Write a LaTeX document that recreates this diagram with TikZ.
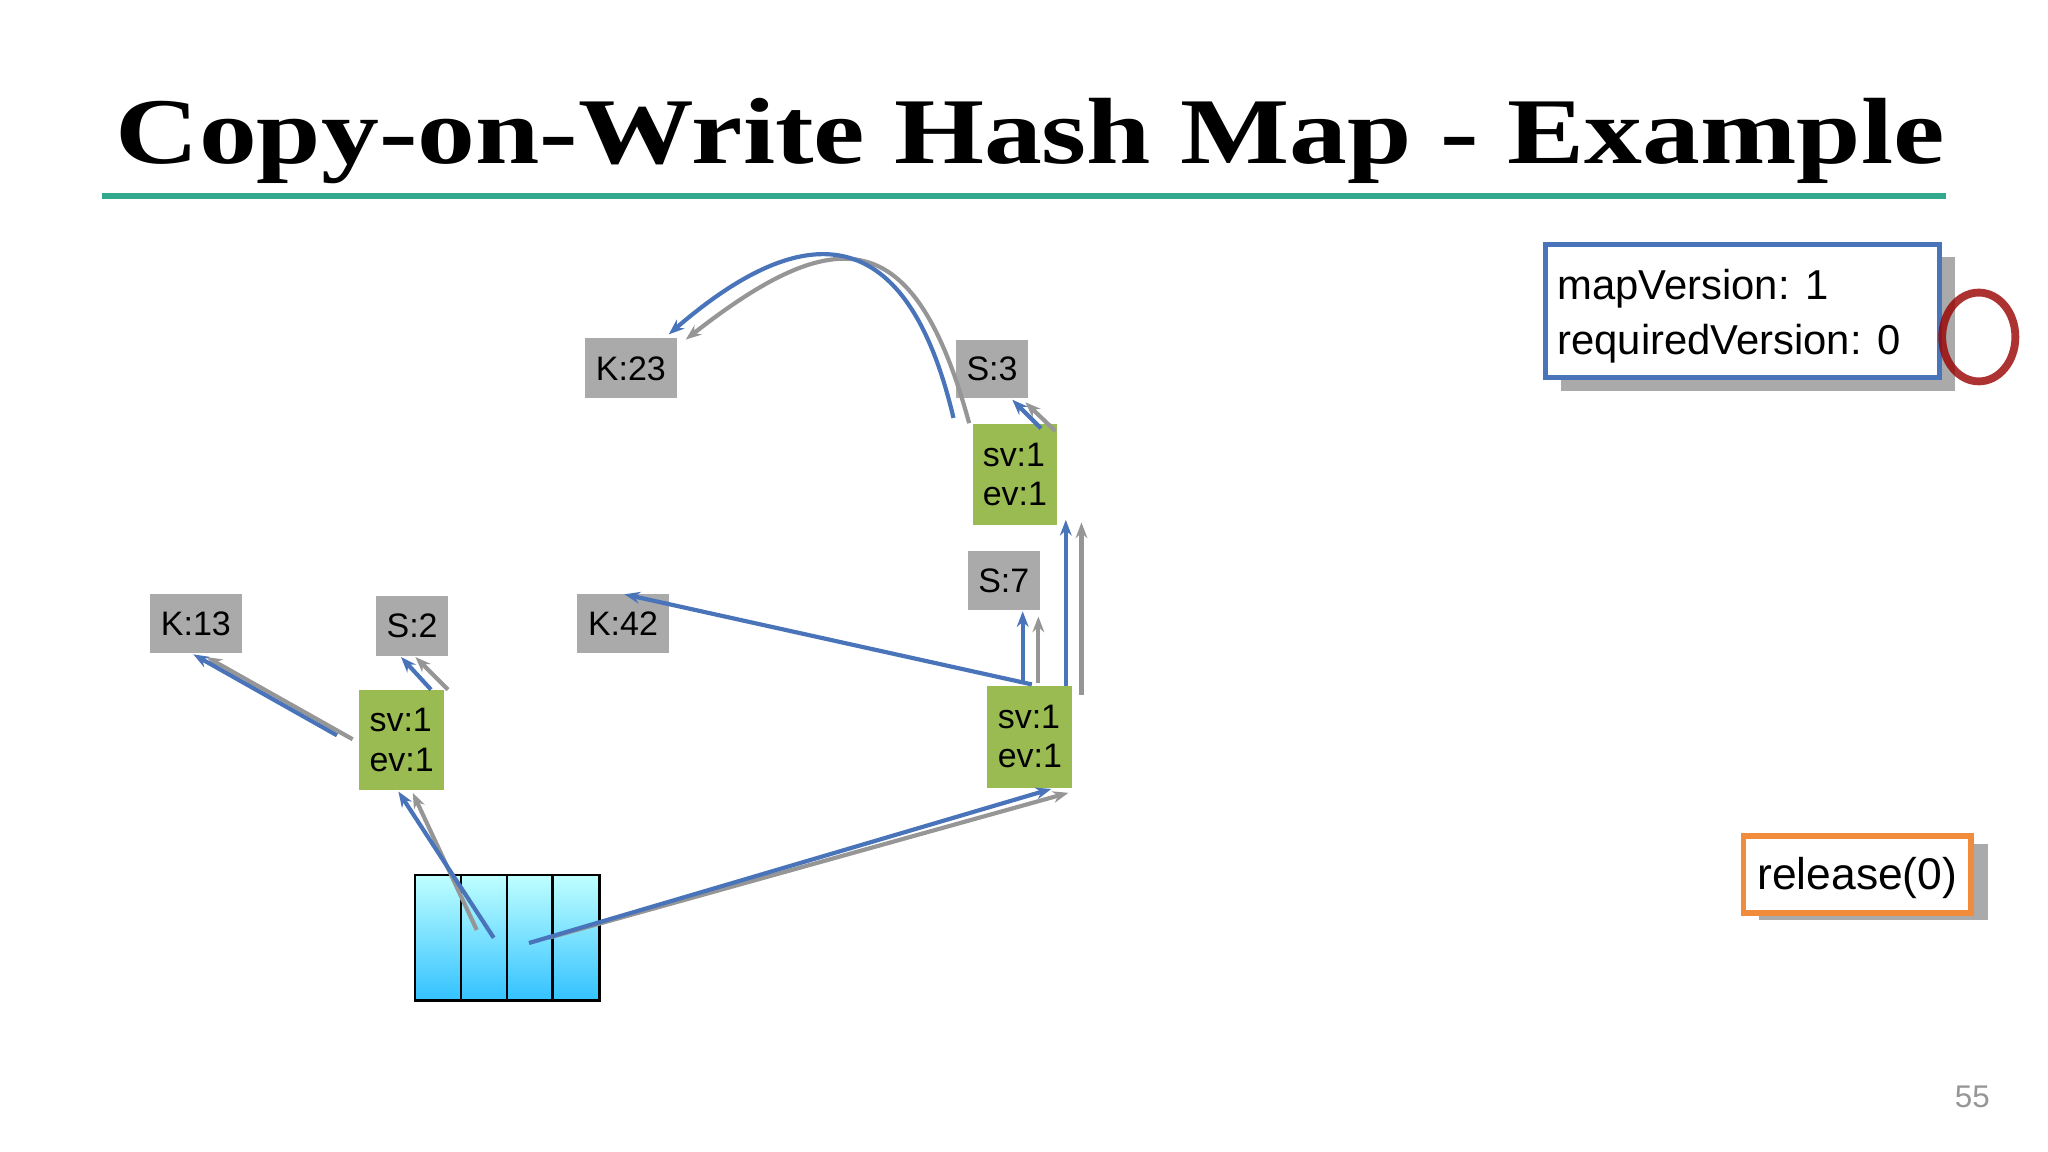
\documentclass[tikz,border=0pt]{standalone}
\usepackage{fontspec}
\setmainfont{Liberation Sans}
\newfontfamily\titlefont{Liberation Serif}
\usetikzlibrary{arrows.meta}
\definecolor{bl}{RGB}{74,116,186}
\definecolor{gr}{RGB}{150,150,150}
\definecolor{box}{RGB}{170,170,170}
\definecolor{grn}{RGB}{153,187,82}
\definecolor{teal}{RGB}{50,168,140}
\definecolor{org}{RGB}{240,140,60}
\begin{document}
\begin{tikzpicture}[x=0.5pt,y=-0.5pt,
 gbox/.style={fill=box,inner sep=0,font=\fontsize{13}{14}\selectfont,anchor=center},
 vbox/.style={fill=grn,inner sep=0,font=\fontsize{13}{15}\selectfont,align=left,anchor=center},
 ba/.style={draw=bl,line width=1.6pt,-{Stealth[length=6pt]}},
 ga/.style={draw=gr,line width=1.6pt,-{Stealth[length=6pt]}}]
\useasboundingbox (0,0) rectangle (1568,882);
\node[font=\titlefont\bfseries\fontsize{36}{40}\selectfont,anchor=base west,inner sep=0,xscale=1.23] (title) at (88,125) {Copy-on-Write Hash Map - Example};
\draw[teal,line width=2pt] (78,150) -- (1490,150);
% boxes
\node[gbox,minimum width=35pt,minimum height=23pt] (k23) at (483,282) {K:23};
\node[gbox,minimum width=27.5pt,minimum height=22.5pt] (s3) at (759.5,282.5) {S:3};
\node[vbox,minimum width=32pt,minimum height=38.5pt] (g1) at (777,363.5) {sv:1\\ev:1};
\node[gbox,minimum width=27.5pt,minimum height=22.5pt] (s7) at (768.5,444.5) {S:7};
\node[gbox,minimum width=35pt,minimum height=22.5pt] (k13) at (150,477.5) {K:13};
\node[gbox,minimum width=27.5pt,minimum height=23pt] (s2) at (315.5,479) {S:2};
\node[gbox,minimum width=35pt,minimum height=22.5pt] (k42) at (477,477.5) {K:42};
\node[vbox,minimum width=32.5pt,minimum height=38.5pt] (g2) at (307.5,566.5) {sv:1\\ev:1};
\node[vbox,minimum width=32.5pt,minimum height=39pt] (g3) at (788.5,564) {sv:1\\ev:1};
% array
\shade[top color=cyan!25,bottom color=cyan!70!blue!80] (318,670) rectangle (459,766);
\draw[line width=0.8pt] (318,670) rectangle (459,766);
\foreach \x in {353,388,423} \draw[line width=0.8pt] (\x,670) -- (\x,766);
\coordinate (a2) at (378,718); \coordinate (a2g) at (365,712);
\coordinate (a3) at (405,722); \coordinate (a3g) at (420,718);
% arrows
\draw[ga] (a2g) -- (316,607);
\draw[ba] (a2) -- (305,606);
\draw[ga] (a3g) -- (818,607);
\draw[ba] (a3) -- (805,604);
\draw[ga] (270,566) -- (158,503);
\draw[ba] (258,563) -- (148,501);
\draw[ga] (343,528) -- (318,503);
\draw[ba] (330,528) -- (307,503);
\draw[ba] (790,524) -- (478,455);
\draw[ga] (795,523) -- (795,472);
\draw[ba] (783,523) -- (783,468);
\draw[ga] (828,532) -- (828,400);
\draw[ba] (816,525) -- (816,398);
\draw[ga] (808,330) -- (785,308);
\draw[ba] (797,328) -- (775,306);
\draw[ga] (742,324) .. controls (700,170) and (640,170) .. (525,260);
\draw[ba] (730,320) .. controls (690,150) and (600,180) .. (512,256);
% info
\fill[box] (1195,197) rectangle (1497,299);
\draw[bl,line width=2pt,fill=white] (1183,187) rectangle (1485,289);
\node[anchor=west,align=left,font=\fontsize{16}{21}\selectfont,inner sep=0] (info) at (1192,242) {mapVersion: 1\\requiredVersion: 0};
\draw[red!60!black,opacity=0.8,line width=3pt] (1515,258) ellipse (14pt and 17pt);
\fill[box] (1347,646) rectangle (1522,704);
\draw[org,line width=2pt,fill=white] (1335,640) rectangle (1509,699);
\node[font=\fontsize{17}{20}\selectfont] (rel) at (1422,672) {release(0)};
\node[text=gr,font=\fontsize{12}{14}\selectfont] (pg) at (1510,840) {55};
\end{tikzpicture}
\end{document}
